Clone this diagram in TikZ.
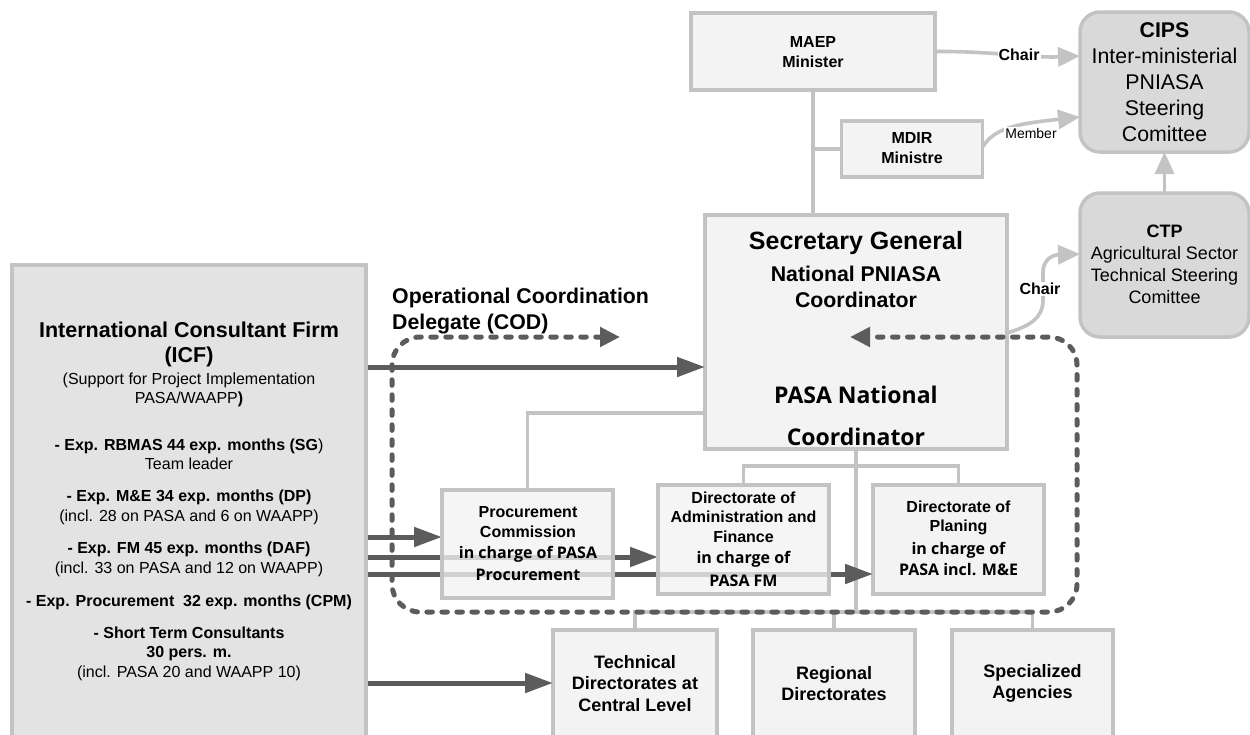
\documentclass[tikz,border=0pt]{standalone}
\usepackage{fontspec}
\setmainfont{Liberation Sans}
\newfontfamily\hum{Open Sans}
\usetikzlibrary{arrows.meta}
\definecolor{boxfill}{HTML}{F3F3F3}
\definecolor{boxline}{HTML}{C3C3C3}
\definecolor{icffill}{HTML}{E3E3E3}
\definecolor{cfill}{HTML}{D9D9D9}
\definecolor{darkg}{HTML}{5C5C5C}
\definecolor{lgray}{HTML}{C3C3C3}
\newcommand\fs[2]{\fontsize{#1}{#2}\selectfont}
\begin{document}
\begin{tikzpicture}[x=1pt,y=-1pt,
  box/.style={draw=boxline, line width=3.3pt, fill=boxfill, inner sep=0pt, outer sep=0pt},
  tbox/.style={box, fill opacity=0.78},
  rbox/.style={draw=boxline, line width=3.5pt, fill=cfill, rounded corners=20pt, inner sep=0pt, outer sep=0pt},
  txt/.style={align=center, inner sep=0pt, text=black},
  org/.style={draw=lgray, line width=3.6pt},
  darr/.style={draw=darkg, line width=5pt, -{Triangle[length=28pt,width=19pt]}},
  codline/.style={draw=darkg, line width=5pt, dash pattern=on 5.5pt off 9.5pt, line cap=round,
     {Triangle[length=20pt,width=19pt]}-{Triangle[length=20pt,width=19pt]}},
  larr/.style={draw=lgray, line width=3.6pt, -{Triangle[length=22pt,width=19pt]}},
  lbl/.style={fill=white, inner sep=1pt, text=black}
]
\useasboundingbox (0,0) rectangle (1250,734);
\clip (0,0) rectangle (1250,734);
\fill[white] (0,0) rectangle (1250,734);

% ICF box
\node[draw=boxline, line width=3.3pt, fill=icffill, inner sep=0pt, minimum width=354pt, minimum height=494pt] (ICF) at (189,512) {};

% box nodes
\node[box, minimum width=244pt, minimum height=77pt] (MAEP) at (813,51.5) {};
\node[box, minimum width=141pt, minimum height=56pt] (MDIR) at (912,149) {};
\node[rbox, minimum width=169pt, minimum height=140pt] (CIPS) at (1164.5,82) {};
\node[rbox, minimum width=169pt, minimum height=144pt] (CTP) at (1164.5,265) {};
\node[box, minimum width=302pt, minimum height=234pt] (SG) at (856,332) {};
\node[box, minimum width=164pt, minimum height=130pt] (Tech) at (635,695) {};
\node[box, minimum width=162pt, minimum height=130pt] (Reg) at (834,695) {};
\node[box, minimum width=161pt, minimum height=130pt] (Spec) at (1032.5,695) {};
\node[box, minimum width=171pt, minimum height=109pt] (Plan) at (958.5,539.5) {};

% org lines
\coordinate (hub) at (856,612);
\coordinate (br) at (856,466);
\draw[org] (MAEP.south) -- (MAEP.south |- SG.north);
\draw[org] (MDIR.west) -- (MDIR.west -| MAEP.south);
\draw[org] (SG.south) -- (hub);
\draw[org] (Plan.north) |- (br);
\draw[org] (Tech.north) |- (hub) -| (Spec.north);
\draw[org] (Reg.north) -- (Reg.north |- hub);

% dark arrows from ICF
\draw[darr] (ICF.east |- 0,367) -- (SG.west |- 0,367);
\draw[darr] (ICF.east |- 0,537) -- (442,537);
\draw[darr] (ICF.east |- 0,557) -- (658,557);
\draw[darr] (ICF.east |- 0,574) -- (Plan.west |- 0,574);
\draw[darr] (ICF.east |- 0,683) -- (Tech.west |- 0,683);

% translucent boxes over arrows
\node[tbox, minimum width=171pt, minimum height=108pt] (Proc) at (527.5,544) {};
\node[tbox, minimum width=171pt, minimum height=109pt] (DAF) at (743.5,539.5) {};
\draw[org] ([yshift=-81pt]SG.west) -| (Proc.north);
\draw[org] (DAF.north) |- (br);

% texts
\node[txt, font=\fs{21.5}{25}\bfseries] (icf1) at (189,344.5) {International Consultant Firm\\(ICF)};
\node[txt, font=\fs{16}{19}] (icf2) at (189,390) {(Support for Project Implementation\\PASA/WAAPP{\bfseries )}};
\node[txt, font=\fs{16}{19}] (icf3) at (189,454.5) {{\bfseries - Exp. RBMAS 44 exp. months (SG})\\Team leader};
\node[txt, font=\fs{16}{20}] (icf4) at (189,507) {{\bfseries - Exp. M\&E 34 exp. months (DP)}\\(incl. 28 on PASA and 6 on WAAPP)};
\node[txt, font=\fs{16}{20}] (icf5) at (189,559) {{\bfseries - Exp. FM 45 exp. months (DAF)}\\(incl. 33 on PASA and 12 on WAAPP)};
\node[txt, font=\fs{16}{19}\bfseries] (icf6) at (189,602) {- Exp. Procurement\ \ 32 exp. months (CPM)};
\node[txt, font=\fs{16}{19.5}] (icf7) at (189,653.5) {{\bfseries - Short Term Consultants}\\{\bfseries 30 pers. m.}\\(incl. PASA 20 and WAAPP 10)};

\node[txt, font=\fs{21.3}{26}\bfseries, align=left, anchor=west] (cod) at (392,311) {Operational Coordination\\Delegate (COD)};

\node[txt, font=\fs{16}{20}\bfseries] (tMAEP) at (813,52) {MAEP\\Minister};
\node[txt, font=\fs{16}{20}\bfseries] (tMDIR) at (912,148) {MDIR\\Ministre};
\node[txt, font=\fs{21.3}{26}] (tCIPS) at (1164.5,82.5) {{\bfseries CIPS}\\Inter-ministerial\\PNIASA\\Steering\\Comittee};
\node[txt, font=\fs{18}{22}] (tCTP) at (1164.5,264.5) {{\bfseries CTP}\\Agricultural Sector\\Technical Steering\\Comittee};

\node[txt, font=\fs{25}{30}\bfseries] (sg1) at (856,243) {Secretary General};
\node[txt, font=\fs{21.3}{26}\bfseries] (sg2) at (856,287) {National PNIASA\\Coordinator};
\node[txt, font=\hum\fs{23}{42}\bfseries] (sg3) at (856,416) {PASA National\\Coordinator};

\node[txt, font=\fs{16}{20}\bfseries] (pa) at (528,522) {Procurement\\Commission};
\node[txt, font=\hum\fs{16}{22}\bfseries] (pb) at (528,563) {in charge of PASA\\Procurement};
\node[txt, font=\fs{16}{19.5}\bfseries] (da) at (743.5,517) {Directorate of\\Administration and\\Finance};
\node[txt, font=\hum\fs{16}{23}\bfseries] (db) at (743.5,568.5) {in charge of\\PASA FM};
\node[txt, font=\fs{16}{19}\bfseries] (la) at (958.5,517.5) {Directorate of\\Planing};
\node[txt, font=\hum\fs{16}{21}\bfseries] (lb) at (958.5,558.5) {in charge of\\PASA incl. M\&E};

\node[txt, font=\fs{18}{21.5}\bfseries] (tTech) at (635,683.5) {Technical\\Directorates at\\Central Level};
\node[txt, font=\fs{18}{21.5}\bfseries] (tReg) at (834,683.5) {Regional\\Directorates};
\node[txt, font=\fs{18}{21.5}\bfseries] (tSpec) at (1032.5,683.5) {Specialized\\Agencies};

% dashed COD loop
\coordinate (codA) at (620,337);
\coordinate (codB) at (850,337);
\draw[codline, rounded corners=28pt] (codA) -- (392,337) -- (392,612) -- (1077,612) -- (1077,337) -- (codB);

% light gray arrows
\draw[larr] (MAEP.east) .. controls (990,51) and (1030,58) .. (CIPS.west |- 0,56)
  node[lbl, pos=0.57, font=\fs{16}{19}\bfseries] (chair1) {Chair};
\draw[larr] (MDIR.east |- 0,147) .. controls (995,128) and (1015,124) .. (CIPS.west |- 0,117);
\node[lbl, font=\fs{14}{17}] (member) at (1031,133) {Member};
\draw[larr] (CTP.north) -- (CIPS.south);
\draw[larr] (SG.east |- 0,333) .. controls (1030,326) and (1043,318) .. (1043,300) -- (1043,272)
   .. controls (1043,262) and (1050,255) .. (CTP.west |- 0,254);
\node[lbl, font=\fs{16}{19}\bfseries] (chair2) at (1040,289) {Chair};
\end{tikzpicture}
\end{document}
